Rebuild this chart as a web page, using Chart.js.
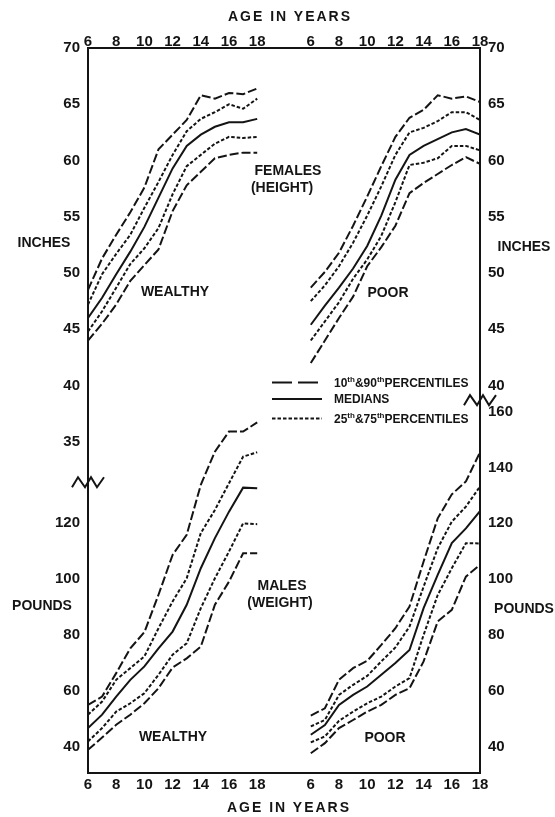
<!DOCTYPE html>
<html>
<head>
<meta charset="utf-8">
<title>Height and weight percentiles, wealthy vs poor</title>
<script src="https://cdn.jsdelivr.net/npm/chart.js@4.4.1/dist/chart.umd.min.js"></script>
<style>
  body { margin: 0; background: #fff; }
  #wrap { position: relative; width: 555px; height: 817px; overflow: hidden;
          font-family: "Liberation Sans", Arial, sans-serif; font-weight: bold; color: #141414; }
  #wrap canvas { position: absolute; left: 0; top: 0; }
  .lbl { position: absolute; font-size: 14px; line-height: 1; white-space: nowrap; transform: translate(-50%, -50%); }
  .lbl.title { letter-spacing: 2px; }
  .leg { position: absolute; left: 272px; display: flex; align-items: center; gap: 12px;
         font-size: 12px; line-height: 1; white-space: nowrap; transform: translateY(-50%); }
  .leg sup { font-size: 8px; vertical-align: 5px; }
</style>
</head>
<body>
<div id="wrap">
  <canvas id="heightChart" width="555" height="817"></canvas>
  <canvas id="weightChart" width="555" height="817"></canvas>
</div>
<script>
/* ---------- data ---------- */
const AGES = [6, 7, 8, 9, 10, 11, 12, 13, 14, 15, 16, 17, 18];
const AGE_TICKS = [6, 8, 10, 12, 14, 16, 18];

const INCH_TICKS_LEFT = [70, 65, 60, 55, 50, 45, 40, 35];
const INCH_TICKS_RIGHT = [70, 65, 60, 55, 50, 45, 40];
const POUND_TICKS_LEFT = [120, 100, 80, 60, 40];
const POUND_TICKS_RIGHT = [160, 140, 120, 100, 80, 60, 40];

// females, height in inches
const wealthyHeightP90 = [48.5, 51.3, 53.4, 55.4, 57.6, 61.0, 62.3, 63.6, 65.8, 65.5, 66.0, 65.9, 66.4];
const wealthyHeightP75 = [47.2, 49.9, 51.7, 53.4, 55.8, 58.1, 60.5, 62.6, 63.7, 64.3, 65.0, 64.6, 65.5];
const wealthyHeightP50 = [46.0, 47.8, 49.9, 51.9, 54.1, 56.7, 59.3, 61.3, 62.3, 63.0, 63.4, 63.4, 63.7];
const wealthyHeightP25 = [44.8, 46.6, 48.7, 50.8, 52.2, 54.0, 57.0, 59.5, 60.5, 61.5, 62.1, 62.0, 62.1];
const wealthyHeightP10 = [44.0, 45.5, 47.2, 49.3, 50.7, 52.1, 55.5, 57.8, 59.0, 60.2, 60.5, 60.7, 60.7];

const poorHeightP90 = [48.7, 50.1, 51.8, 54.2, 56.8, 59.5, 62.1, 63.8, 64.5, 65.8, 65.5, 65.7, 65.2];
const poorHeightP75 = [47.5, 48.9, 50.6, 52.7, 55.1, 57.7, 60.5, 62.5, 62.9, 63.5, 64.3, 64.3, 63.6];
const poorHeightP50 = [45.4, 47.1, 48.7, 50.4, 52.4, 55.1, 58.3, 60.5, 61.3, 61.9, 62.5, 62.8, 62.3];
const poorHeightP25 = [44.0, 45.7, 47.4, 49.5, 51.2, 53.3, 56.3, 59.6, 59.8, 60.2, 61.3, 61.3, 60.9];
const poorHeightP10 = [42.0, 44.0, 46.0, 47.9, 50.6, 52.3, 54.2, 57.1, 58.0, 58.8, 59.6, 60.3, 59.7];

// males, weight in pounds
const wealthyWeightP90 = [54.9, 57.9, 66.3, 75.2, 81.0, 94.4, 108.7, 115.9, 133.8, 145.7, 152.9, 152.9, 156.2];
const wealthyWeightP75 = [51.4, 56.1, 63.9, 68.1, 72.3, 82.4, 92.0, 100.3, 116.5, 124.8, 134.4, 143.9, 145.5];
const wealthyWeightP50 = [46.6, 51.4, 57.9, 63.9, 68.7, 75.2, 81.2, 90.8, 103.9, 114.7, 124.2, 132.8, 132.6];
const wealthyWeightP25 = [41.8, 46.6, 52.5, 55.5, 59.1, 65.7, 72.9, 77.0, 89.6, 100.3, 109.9, 120.0, 119.7];
const wealthyWeightP10 = [38.8, 43.2, 47.8, 51.4, 55.5, 60.9, 68.3, 71.6, 75.8, 90.8, 99.1, 109.3, 109.3];

const poorWeightP90 = [51.1, 53.7, 63.9, 68.1, 70.7, 76.4, 82.4, 90.2, 106.3, 121.8, 130.4, 135.0, 145.5];
const poorWeightP75 = [47.2, 49.5, 58.5, 62.1, 65.3, 70.5, 75.5, 83.0, 97.3, 111.1, 120.6, 126.0, 133.2];
const poorWeightP50 = [44.2, 47.7, 54.9, 58.5, 61.5, 65.7, 69.9, 74.6, 89.6, 101.5, 112.9, 118.2, 124.4];
const poorWeightP25 = [41.5, 43.6, 49.2, 52.5, 55.5, 57.9, 61.5, 64.5, 80.0, 94.3, 103.9, 112.9, 112.8];
const poorWeightP10 = [37.6, 41.2, 46.6, 49.5, 52.5, 54.9, 58.5, 60.9, 70.5, 84.8, 89.0, 100.9, 105.1];

/* ---------- layout ---------- */
const W = 555, H = 817;
const FRAME = { left: 88, right: 480, top: 48, bottom: 773 };
const INK = '#141414';
const TICK_FONT = { family: '"Liberation Sans", Arial, sans-serif', size: 15, weight: 'bold' };

// both panels share one frame: the poor panel's age axis is shifted right
const AGE_MIN = 6, AGE_SPAN = 27.8, POOR_SHIFT = 15.8;
const INCH_RANGE = [5.56, 70];
const POUND_RANGE = [30.5, 290.4];
const BREAK_LEFT = 31.4, BREAK_RIGHT = 38.7; // inches, where the axis break marks sit
const ZIGZAG = [[-16, 5], [-10, -5], [-3, 5], [3, -5], [9, 5], [16, -5]];

const DASH = { p90: [9, 3], p75: [3.5, 2], p50: [], p25: [3.5, 2], p10: [9, 3] };

function lineSet(values, pct, poor) {
  return {
    data: AGES.map((a, i) => ({ x: a, y: values[i] })),
    xAxisID: poor ? 'xPoor' : 'x',
    yAxisID: poor ? 'yR' : 'yL',
    borderColor: INK,
    borderWidth: 2,
    borderDash: DASH[pct],
    pointRadius: 0,
    tension: 0,
    fill: false
  };
}

function yScale(side, range, ticksList) {
  return {
    type: 'linear', position: side, min: range[0], max: range[1],
    afterBuildTicks: s => { s.ticks = ticksList.map(v => ({ value: v })); },
    afterFit: s => { s.width = side === 'left' ? FRAME.left : W - FRAME.right; },
    ticks: { font: TICK_FONT, color: INK, padding: 8 },
    grid: { display: false, drawTicks: false },
    border: { display: true, width: 2, color: INK }
  };
}

function ageScale(side) {
  return {
    type: 'linear', position: side, min: AGE_MIN, max: AGE_MIN + AGE_SPAN,
    afterBuildTicks: s => {
      s.ticks = AGE_TICKS.map(v => ({ value: v }))
        .concat(AGE_TICKS.map(v => ({ value: v + POOR_SHIFT })));
    },
    afterFit: s => { s.height = side === 'top' ? FRAME.top : H - FRAME.bottom; },
    ticks: {
      font: TICK_FONT, color: INK, autoSkip: false, maxRotation: 0,
      padding: side === 'top' ? -3 : 3,
      callback: v => String(Math.round(v > 18.5 ? v - POOR_SHIFT : v))
    },
    grid: { display: false, drawTicks: false },
    border: { display: true, width: 2, color: INK }
  };
}

const breakMarks = {
  id: 'breakMarks',
  afterDraw(chart) {
    const { ctx, scales } = chart;
    [[scales.yL, BREAK_LEFT, scales.yL.right], [scales.yR, BREAK_RIGHT, scales.yR.left]].forEach(([s, v, cx]) => {
      const cy = s.getPixelForValue(v);
      ctx.save();
      ctx.beginPath();
      ZIGZAG.forEach(([dx, dy], i) => i ? ctx.lineTo(cx + dx, cy + dy) : ctx.moveTo(cx + dx, cy + dy));
      ctx.lineWidth = 2;
      ctx.strokeStyle = INK;
      ctx.stroke();
      ctx.restore();
    });
  }
};

function makeChart(id, sets, xSide, yRange, ticksL, ticksR, plugins) {
  return new Chart(document.getElementById(id), {
    type: 'line',
    data: { datasets: sets },
    options: {
      responsive: false, animation: false,
      layout: { padding: xSide === 'top' ? { bottom: H - FRAME.bottom } : { top: FRAME.top } },
      plugins: { legend: { display: false }, tooltip: { enabled: false }, title: { display: false } },
      scales: {
        x: ageScale(xSide),
        xPoor: { type: 'linear', display: false, min: AGE_MIN - POOR_SHIFT, max: AGE_MIN + AGE_SPAN - POOR_SHIFT },
        yL: yScale('left', yRange, ticksL),
        yR: yScale('right', yRange, ticksR)
      }
    },
    plugins: plugins || []
  });
}

makeChart('heightChart', [
  lineSet(wealthyHeightP90, 'p90'), lineSet(wealthyHeightP75, 'p75'), lineSet(wealthyHeightP50, 'p50'),
  lineSet(wealthyHeightP25, 'p25'), lineSet(wealthyHeightP10, 'p10'),
  lineSet(poorHeightP90, 'p90', true), lineSet(poorHeightP75, 'p75', true), lineSet(poorHeightP50, 'p50', true),
  lineSet(poorHeightP25, 'p25', true), lineSet(poorHeightP10, 'p10', true)
], 'top', INCH_RANGE, INCH_TICKS_LEFT, INCH_TICKS_RIGHT, [breakMarks]);

makeChart('weightChart', [
  lineSet(wealthyWeightP90, 'p90'), lineSet(wealthyWeightP75, 'p75'), lineSet(wealthyWeightP50, 'p50'),
  lineSet(wealthyWeightP25, 'p25'), lineSet(wealthyWeightP10, 'p10'),
  lineSet(poorWeightP90, 'p90', true), lineSet(poorWeightP75, 'p75', true), lineSet(poorWeightP50, 'p50', true),
  lineSet(poorWeightP25, 'p25', true), lineSet(poorWeightP10, 'p10', true)
], 'bottom', POUND_RANGE, POUND_TICKS_LEFT, POUND_TICKS_RIGHT);

/* ---------- annotation text + key ---------- */
const LABELS = [
  { text: 'AGE IN YEARS', x: 290, y: 16, cls: 'title' },
  { text: 'AGE IN YEARS', x: 289, y: 807, cls: 'title' },
  { text: 'INCHES', x: 44, y: 242 },
  { text: 'INCHES', x: 524, y: 246 },
  { text: 'POUNDS', x: 42, y: 605 },
  { text: 'POUNDS', x: 524, y: 608 },
  { text: 'FEMALES', x: 288, y: 170 },
  { text: '(HEIGHT)', x: 282, y: 187 },
  { text: 'WEALTHY', x: 175, y: 291 },
  { text: 'POOR', x: 388, y: 292 },
  { text: 'MALES', x: 282, y: 585 },
  { text: '(WEIGHT)', x: 280, y: 602 },
  { text: 'WEALTHY', x: 173, y: 736 },
  { text: 'POOR', x: 385, y: 737 }
];

const KEY = [
  { html: '10<sup>th</sup>&amp;90<sup>th</sup>PERCENTILES', dash: '20 6', y: 382 },
  { html: 'MEDIANS', dash: 'none', y: 399 },
  { html: '25<sup>th</sup>&amp;75<sup>th</sup>PERCENTILES', dash: '3.5 2', y: 418 }
];

const wrap = document.getElementById('wrap');
LABELS.forEach(l => {
  const d = document.createElement('div');
  d.className = 'lbl' + (l.cls ? ' ' + l.cls : '');
  d.style.left = l.x + 'px';
  d.style.top = l.y + 'px';
  d.textContent = l.text;
  wrap.appendChild(d);
});
KEY.forEach(k => {
  const d = document.createElement('div');
  d.className = 'leg';
  d.style.top = k.y + 'px';
  d.innerHTML = `<svg width="50" height="4"><line x1="0" y1="2" x2="50" y2="2" stroke="${INK}" stroke-width="1.8" stroke-dasharray="${k.dash}"/></svg><span>${k.html}</span>`;
  wrap.appendChild(d);
});
</script>
</body>
</html>
